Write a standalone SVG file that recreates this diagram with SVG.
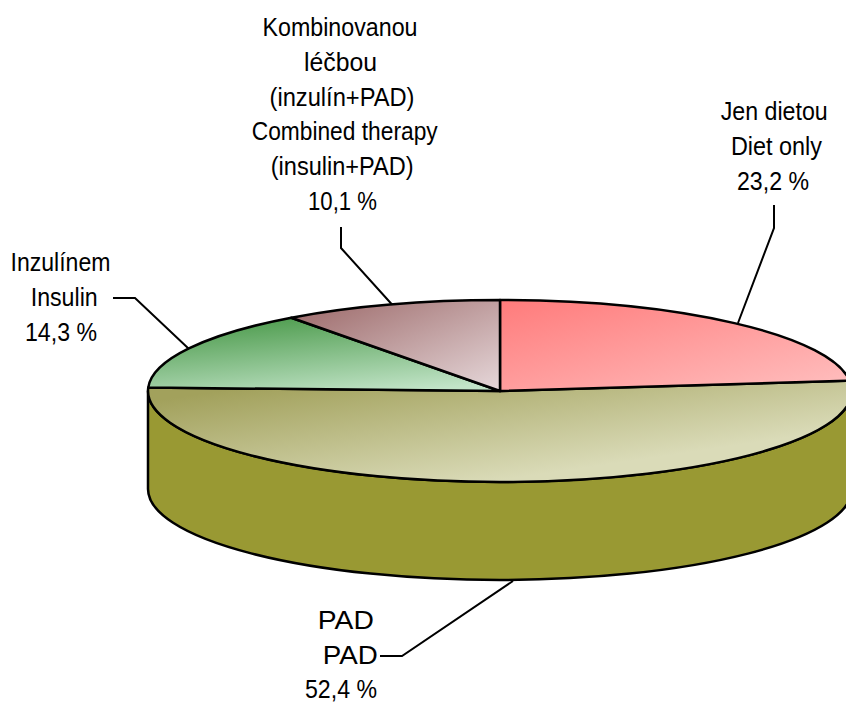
<svg xmlns="http://www.w3.org/2000/svg" width="846" height="704" viewBox="0 0 846 704">
<defs>
<linearGradient id="gDiet" x1="0" y1="0" x2="1" y2="1">
<stop offset="0" stop-color="#FF7B7B"/>
<stop offset="1" stop-color="#FFC0C0"/>
</linearGradient>
<linearGradient id="gComb" x1="0" y1="0" x2="1" y2="1">
<stop offset="0" stop-color="#9A6666"/>
<stop offset="1" stop-color="#E6D8DA"/>
</linearGradient>
<linearGradient id="gIns" x1="0.3" y1="0" x2="0.75" y2="1">
<stop offset="0" stop-color="#4E9C4E"/>
<stop offset="1" stop-color="#C2E4C8"/>
</linearGradient>
<linearGradient id="gPad" gradientUnits="userSpaceOnUse" x1="160" y1="400" x2="179" y2="528">
<stop offset="0" stop-color="#A2A15C"/>
<stop offset="1" stop-color="#DADBB8"/>
</linearGradient>
</defs>
<style>
.edge{stroke:#000;stroke-width:2.5;stroke-linejoin:round}
.lead{fill:none;stroke:#000;stroke-width:2}
text{font-family:"Liberation Sans",Arial,sans-serif;font-size:26px;fill:#000;text-anchor:middle}
</style>
<g id="pie">
<g id="side-pad">
<path class="edge" fill="#999933" d="M148,391 A352,91 0 0 0 852,391 L852,489 A352,91 0 0 1 148,489 Z"/>
</g>
<g id="slice-pad">
<path class="edge" fill="url(#gPad)" d="M500,391 L849.75,380.7 A352,91 0 1 1 148.25,387.6 Z"/>
</g>
<g id="slice-diet">
<path class="edge" fill="url(#gDiet)" d="M500,391 L500,300 A352,91 0 0 1 849.75,380.7 Z"/>
</g>
<g id="slice-insulin">
<path class="edge" fill="url(#gIns)" d="M500,391 L148.25,387.6 A352,91 0 0 1 291.3,317.7 Z"/>
</g>
<g id="slice-combined">
<path class="edge" fill="url(#gComb)" d="M500,391 L291.3,317.7 A352,91 0 0 1 500,300 Z"/>
</g>
</g>
<g id="connectors">
<polyline class="lead" points="341,227 341,248 392,304.5"/>
<polyline class="lead" points="113,298 135,298 189,349"/>
<polyline class="lead" points="774,205 774,228 738,323"/>
<polyline class="lead" points="380,656 402,656 513,581"/>
</g>
<g id="label-combined">
<text x="340" y="36" textLength="155" lengthAdjust="spacingAndGlyphs">Kombinovanou</text>
<text x="340.5" y="70.8" textLength="73" lengthAdjust="spacingAndGlyphs">léčbou</text>
<text x="342" y="105.6" textLength="145" lengthAdjust="spacingAndGlyphs">(inzulín+PAD)</text>
<text x="344.7" y="140.4" textLength="186" lengthAdjust="spacingAndGlyphs">Combined therapy</text>
<text x="342.2" y="175.2" textLength="143" lengthAdjust="spacingAndGlyphs">(insulin+PAD)</text>
<text x="342.5" y="210" textLength="69" lengthAdjust="spacingAndGlyphs">10,1 %</text>
</g>
<g id="label-diet">
<text x="774.2" y="120" textLength="107" lengthAdjust="spacingAndGlyphs">Jen dietou</text>
<text x="776.4" y="155" textLength="91" lengthAdjust="spacingAndGlyphs">Diet only</text>
<text x="773" y="190" textLength="72" lengthAdjust="spacingAndGlyphs">23,2 %</text>
</g>
<g id="label-insulin">
<text x="60.5" y="271" textLength="100" lengthAdjust="spacingAndGlyphs">Inzulínem</text>
<text x="64.2" y="306" textLength="67" lengthAdjust="spacingAndGlyphs">Insulin</text>
<text x="61" y="341" textLength="72" lengthAdjust="spacingAndGlyphs">14,3 %</text>
</g>
<g id="label-pad">
<text x="345.8" y="629" textLength="56" lengthAdjust="spacingAndGlyphs">PAD</text>
<text x="350.3" y="664" textLength="55" lengthAdjust="spacingAndGlyphs">PAD</text>
<text x="341" y="698" textLength="72" lengthAdjust="spacingAndGlyphs">52,4 %</text>
</g>
</svg>
